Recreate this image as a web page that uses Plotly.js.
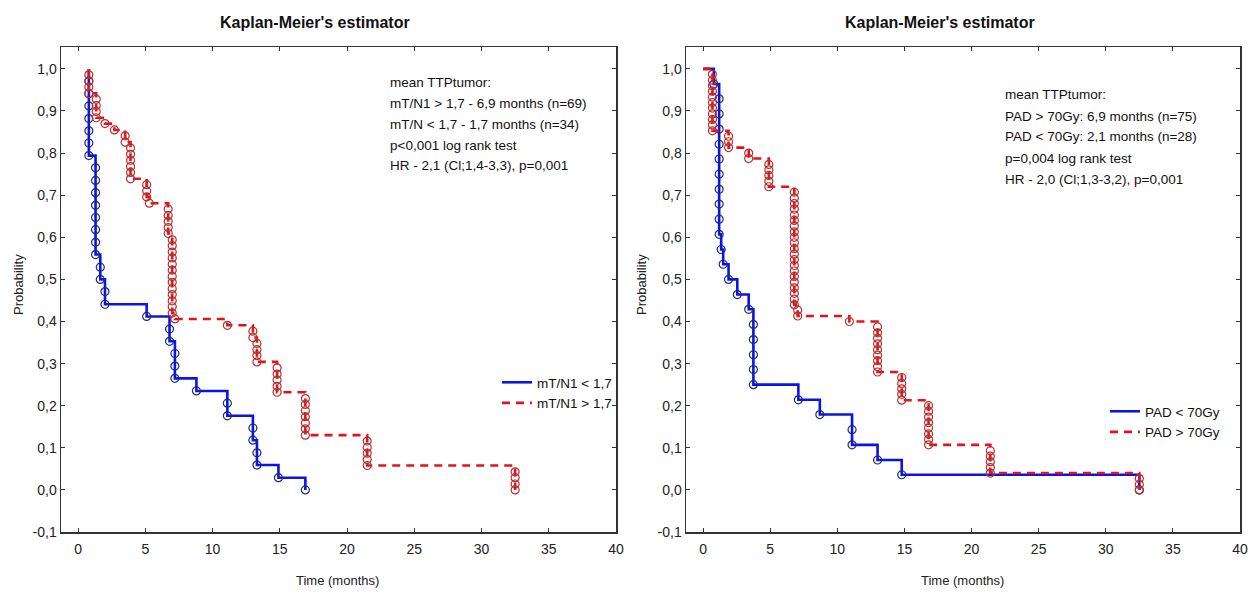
<!DOCTYPE html>
<html><head><meta charset="utf-8">
<script src="https://cdn.plot.ly/plotly-3.0.1.min.js"></script>
<style>body{margin:0;background:#fff}#chart{width:1257px;height:593px}</style>
</head><body><div id="chart"></div>
<script>
// ---------- data ----------
const yTickVals = [-0.1, 0, 0.1, 0.2, 0.3, 0.4, 0.5, 0.6, 0.7, 0.8, 0.9, 1.0];
const yTickText = ['-0,1','0,0','0,1','0,2','0,3','0,4','0,5','0,6','0,7','0,8','0,9','1,0'];
const xTickVals = [0, 5, 10, 15, 20, 25, 30, 35, 40];

// Left panel: mT/N1 < 1,7 (blue)
const leftBlueT = [0.8, 0.8, 1.3, 1.65, 2.0, 5.1, 6.8, 7.2, 8.8, 11.1, 13.0, 13.3, 14.9, 16.9];
const leftBlueS = [1.0, 0.794, 0.559, 0.5, 0.441, 0.412, 0.353, 0.265, 0.235, 0.176, 0.118, 0.059, 0.029, 0.0];
const leftBlueEvents = [
  [0.8, 0.971, 0.941, 0.912, 0.882, 0.853, 0.824, 0.794],
  [1.3, 0.765, 0.735, 0.706, 0.676, 0.647, 0.618, 0.588, 0.559],
  [1.65, 0.529, 0.5],
  [2.0, 0.471, 0.441],
  [5.1, 0.412],
  [6.8, 0.382, 0.353],
  [7.2, 0.324, 0.294, 0.265],
  [8.8, 0.235],
  [11.1, 0.206, 0.176],
  [13.0, 0.147, 0.118],
  [13.3, 0.088, 0.059],
  [14.9, 0.029],
  [16.9, 0.0]
];
// Left panel: mT/N1 > 1,7 (red)
const leftRedT = [0.8, 0.8, 1.35, 2.0, 2.7, 3.5, 3.9, 5.1, 5.3, 6.7, 7.0, 7.2, 11.1, 13.0, 13.3, 14.8, 16.9, 21.5, 32.5];
const leftRedS = [1.0, 0.942, 0.884, 0.870, 0.855, 0.826, 0.739, 0.696, 0.681, 0.609, 0.420, 0.406, 0.391, 0.362, 0.304, 0.232, 0.130, 0.058, 0.0];
const leftRedEvents = [
  [0.8, 0.986, 0.971, 0.957, 0.942],
  [1.35, 0.928, 0.913, 0.899, 0.884],
  [2.0, 0.870],
  [2.7, 0.855],
  [3.5, 0.841, 0.826],
  [3.9, 0.812, 0.797, 0.783, 0.768, 0.754, 0.739],
  [5.1, 0.725, 0.710, 0.696],
  [5.3, 0.681],
  [6.7, 0.667, 0.652, 0.638, 0.623, 0.609],
  [7.0, 0.594, 0.580, 0.565, 0.551, 0.536, 0.522, 0.507, 0.493, 0.478, 0.464, 0.449, 0.435, 0.420],
  [7.2, 0.406],
  [11.1, 0.391],
  [13.0, 0.377, 0.362],
  [13.3, 0.348, 0.333, 0.319, 0.304],
  [14.8, 0.290, 0.275, 0.261, 0.246, 0.232],
  [16.9, 0.217, 0.203, 0.188, 0.174, 0.159, 0.145, 0.130],
  [21.5, 0.116, 0.101, 0.087, 0.072, 0.058],
  [32.5, 0.043, 0.029, 0.014, 0.0]
];

// Right panel: PAD < 70Gy (blue)
const rightBlueT = [0, 0.8, 1.2, 1.35, 1.5, 1.9, 2.55, 3.4, 3.75, 7.1, 8.7, 11.1, 13.0, 14.8, 32.5];
const rightBlueS = [1.0, 0.964, 0.607, 0.571, 0.536, 0.5, 0.464, 0.429, 0.25, 0.214, 0.179, 0.107, 0.071, 0.036, 0.0];
const rightBlueEvents = [
  [0.8, 0.964],
  [1.2, 0.929, 0.893, 0.857, 0.821, 0.786, 0.750, 0.714, 0.679, 0.643, 0.607],
  [1.35, 0.571],
  [1.5, 0.536],
  [1.9, 0.5],
  [2.55, 0.464],
  [3.4, 0.429],
  [3.75, 0.393, 0.357, 0.321, 0.286, 0.25],
  [7.1, 0.214],
  [8.7, 0.179],
  [11.1, 0.143, 0.107],
  [13.0, 0.071],
  [14.8, 0.036],
  [32.5, 0.0]
];
// Right panel: PAD > 70Gy (red)
const rightRedT = [0, 0.7, 1.9, 3.4, 4.9, 6.8, 7.05, 10.9, 13.0, 14.8, 16.8, 21.4, 32.5];
const rightRedS = [1.0, 0.853, 0.813, 0.787, 0.72, 0.44, 0.413, 0.40, 0.28, 0.213, 0.107, 0.04, 0.0];
const rightRedEvents = [
  [0.7, 0.987, 0.973, 0.960, 0.947, 0.933, 0.920, 0.907, 0.893, 0.880, 0.867, 0.853],
  [1.9, 0.840, 0.827, 0.813],
  [3.4, 0.800, 0.787],
  [4.9, 0.773, 0.760, 0.747, 0.733, 0.720],
  [6.8, 0.707, 0.693, 0.680, 0.667, 0.653, 0.640, 0.627, 0.613, 0.600, 0.587, 0.573, 0.560, 0.547, 0.533, 0.520, 0.507, 0.493, 0.480, 0.467, 0.453, 0.440],
  [7.05, 0.427, 0.413],
  [10.9, 0.400],
  [13.0, 0.387, 0.373, 0.360, 0.347, 0.333, 0.320, 0.307, 0.293, 0.280],
  [14.8, 0.267, 0.253, 0.240, 0.227, 0.213],
  [16.8, 0.200, 0.187, 0.173, 0.160, 0.147, 0.133, 0.120, 0.107],
  [21.4, 0.093, 0.080, 0.067, 0.053, 0.040],
  [32.5, 0.027, 0.013, 0.0]
];

const leftNames = ['mT/N1 < 1,7', 'mT/N1 > 1,7'];
const rightNames = ['PAD < 70Gy', 'PAD > 70Gy'];
const titleText = "Kaplan-Meier's estimator";
const leftInfo = ['mean TTPtumor:', 'mT/N1 > 1,7 - 6,9 months (n=69)', 'mT/N < 1,7 - 1,7 months (n=34)', 'p<0,001 log rank test', 'HR - 2,1 (Cl;1,4-3,3), p=0,001'];
const rightInfo = ['mean TTPtumor:', 'PAD > 70Gy: 6,9 months (n=75)', 'PAD < 70Gy: 2,1 months (n=28)', 'p=0,004 log rank test', 'HR - 2,0 (Cl;1,3-3,2), p=0,001'];

// ---------- drawing ----------
const W = 1257, H = 593;
const FONT = 'Liberation Sans Narrow, Arial Narrow, Liberation Sans, Arial, sans-serif';
const BLUE = '#0a14e6', RED = '#e0141e';
const BLUE_C = '#202a78', RED_C = '#b83030';

function flatten(ev) {
  const xs = [], ys = [];
  ev.forEach(g => { for (let i = 1; i < g.length; i++) { xs.push(g[0]); ys.push(g[i]); } });
  return {xs, ys};
}
function stepTrace(t, s, name, color, dash, xa, ya, lg) {
  return {x: t, y: s, type: 'scatter', mode: 'lines', name: name,
    line: {shape: 'hv', color: color, width: 2.6, dash: dash},
    xaxis: xa, yaxis: ya, legend: lg, hoverinfo: 'skip'};
}
function circTrace(ev, color, xa, ya) {
  const f = flatten(ev);
  return {x: f.xs, y: f.ys, type: 'scatter', mode: 'markers', showlegend: false,
    marker: {symbol: 'circle-open', size: 8, color: color, line: {width: 1.2, color: color}},
    xaxis: xa, yaxis: ya, hoverinfo: 'skip'};
}

const traces = [
  stepTrace(leftBlueT, leftBlueS, leftNames[0], BLUE, 'solid', 'x', 'y', 'legend'),
  circTrace(leftBlueEvents, BLUE_C, 'x', 'y'),
  stepTrace(leftRedT, leftRedS, leftNames[1], RED, '8px,6px', 'x', 'y', 'legend'),
  circTrace(leftRedEvents, RED_C, 'x', 'y'),
  stepTrace(rightBlueT, rightBlueS, rightNames[0], BLUE, 'solid', 'x2', 'y2', 'legend2'),
  circTrace(rightBlueEvents, BLUE_C, 'x2', 'y2'),
  stepTrace(rightRedT, rightRedS, rightNames[1], RED, '8px,6px', 'x2', 'y2', 'legend2'),
  circTrace(rightRedEvents, RED_C, 'x2', 'y2')
];

const px = v => v / W, py = v => 1 - v / H;

function xAxis(d) {
  return {domain: d, range: [-1.27, 40], tickvals: xTickVals, ticktext: xTickVals.map(String),
    ticks: 'inside', ticklen: 4, tickwidth: 1, tickcolor: '#333', showline: true, linecolor: '#333',
    linewidth: 1.5, mirror: 'ticks', showgrid: false, zeroline: false, ticklabelstandoff: 4,
    tickfont: {family: FONT, size: 14, color: '#222'}, fixedrange: true};
}
function yAxis(anchor) {
  return {domain: [py(532), py(47)], range: [-0.1, 1.052], tickvals: yTickVals, ticktext: yTickText,
    ticks: 'inside', ticklen: 4, tickwidth: 1, tickcolor: '#333', showline: true, linecolor: '#333',
    linewidth: 1.5, mirror: 'ticks', showgrid: false, zeroline: false, anchor: anchor,
    tickfont: {family: FONT, size: 14, color: '#222'}, fixedrange: true};
}

function ann(text, x, y, extra) {
  return Object.assign({text: text, x: px(x), y: py(y), xref: 'paper', yref: 'paper', showarrow: false,
    xanchor: 'center', yanchor: 'middle'}, extra);
}
const annotations = [
  ann('<b>' + titleText + '</b>', 315, 22, {font: {family: FONT, size: 16, color: '#111'}}),
  ann('<b>' + titleText + '</b>', 940, 22, {font: {family: FONT, size: 16, color: '#111'}}),
  ann('Probability', 18, 285, {textangle: -90, font: {family: FONT, size: 13, color: '#222'}}),
  ann('Probability', 641, 285, {textangle: -90, font: {family: FONT, size: 13, color: '#222'}}),
  ann('Time (months)', 338, 580, {font: {family: FONT, size: 13, color: '#222'}}),
  ann('Time (months)', 962, 580, {font: {family: FONT, size: 13, color: '#222'}})
];
leftInfo.forEach((t, i) => annotations.push(ann(t, 388, 82 + i * 21,
  {xanchor: 'left', font: {family: FONT, size: 13.5, color: '#111'}})));
rightInfo.forEach((t, i) => annotations.push(ann(t, 1003, 95 + i * 21,
  {xanchor: 'left', font: {family: FONT, size: 13.5, color: '#111'}})));

const legendBase = {bgcolor: 'rgba(255,255,255,0)', borderwidth: 0, xanchor: 'left', yanchor: 'top',
  font: {family: FONT, size: 13.5, color: '#111'}, itemwidth: 30, tracegroupgap: 0};

const layout = {
  width: W, height: H, margin: {l: 0, r: 0, t: 0, b: 0},
  paper_bgcolor: '#fff', plot_bgcolor: '#fff',
  xaxis: Object.assign(xAxis([px(61), px(616)]), {anchor: 'y'}),
  yaxis: yAxis('x'),
  xaxis2: Object.assign(xAxis([px(686), px(1240)]), {anchor: 'y2'}),
  yaxis2: yAxis('x2'),
  legend: Object.assign({}, legendBase, {x: px(497), y: py(367)}),
  legend2: Object.assign({}, legendBase, {x: px(1105), y: py(396)}),
  annotations: annotations
};

Plotly.newPlot('chart', traces, layout, {displayModeBar: false, staticPlot: true});
</script></body></html>
